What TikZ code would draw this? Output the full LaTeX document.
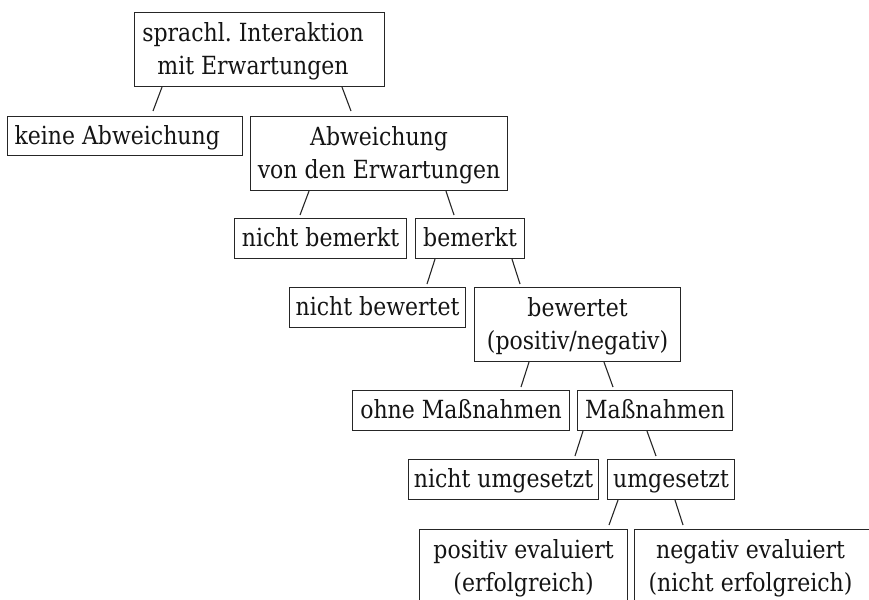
\documentclass[tikz,border=0pt]{standalone}
\usepackage{fontspec}
\setmainfont{DejaVu Serif}[FakeStretch=0.88]
\frenchspacing
\newcommand\sst{\rule[-4pt]{0pt}{24pt}}
\newcommand\bx[1]{\sst\smash{#1}}
\newcommand\shl[1]{\makebox[40pt][l]{\makebox[27pt]{#1}}}
\begin{document}
\begin{tikzpicture}[x=1pt,y=-1pt,
  box/.style={draw=black!85, line width=1.1pt, text=black!92, inner sep=0pt,
    align=center, anchor=north west, font=\fontsize{25}{33}\selectfont},
  one/.style={box, minimum height=40pt},
  two/.style={box, minimum height=74pt},
  edge/.style={draw=black!85, line width=1.1pt}]
\useasboundingbox (0,0) rectangle (869,599);
\clip (0,0) rectangle (869,599);

\node[two, minimum width=250pt] (root) at (134,12)
  {\bx{\shl{sprachl. Interaktion}}\\\bx{\shl{mit Erwartungen}}};
\node[one, minimum width=235pt, minimum height=39pt] (keine) at (7,116)
  {\bx{\makebox[221pt][l]{keine Abweichung}}};
\node[two, minimum width=257pt] (abw) at (250,116)
  {\bx{Abweichung}\\\bx{von den Erwartungen}};
\node[one, minimum width=172pt] (nbem) at (234,218) {\bx{nicht bemerkt}};
\node[one, minimum width=109pt] (bem) at (415,218) {\bx{bemerkt}};
\node[one, minimum width=176pt] (nbew) at (289,287) {\bx{nicht bewertet}};
\node[two, minimum width=206pt] (bew) at (474,287)
  {\bx{bewertet}\\\bx{(positiv/negativ)}};
\node[one, minimum width=217pt] (ohne) at (352,390) {\bx{ohne Maßnahmen}};
\node[one, minimum width=155pt] (mass) at (577,390) {\bx{Maßnahmen}};
\node[one, minimum width=190pt] (num) at (408,459) {\bx{nicht umgesetzt}};
\node[one, minimum width=127pt] (um) at (607,459) {\bx{umgesetzt}};
\node[two, minimum width=208pt] (pos) at (419,529)
  {\bx{positiv evaluiert}\\\bx{(erfolgreich)}};
\node[two, minimum width=246pt] (neg) at (634,529)
  {\bx{\makebox[246pt][l]{\makebox[232pt]{negativ evaluiert}}}\\
   \bx{\makebox[246pt][l]{\makebox[232pt]{(nicht erfolgreich)}}}};

\draw[edge] ([xshift=28pt]root.south west) -- ([xshift=146pt,yshift=5pt]keine.north west);
\draw[edge] ([xshift=208pt]root.south west) -- ([xshift=101pt,yshift=5pt]abw.north west);
\draw[edge] ([xshift=59pt]abw.south west) -- ([xshift=66pt,yshift=3pt]nbem.north west);
\draw[edge] ([xshift=196pt]abw.south west) -- ([xshift=39pt,yshift=3pt]bem.north west);
\draw[edge] ([xshift=20pt]bem.south west) -- ([xshift=138pt,yshift=3pt]nbew.north west);
\draw[edge] ([xshift=97pt]bem.south west) -- ([xshift=46pt,yshift=3pt]bew.north west);
\draw[edge] ([xshift=55pt]bew.south west) -- ([xshift=169pt,yshift=3pt]ohne.north west);
\draw[edge] ([xshift=130pt]bew.south west) -- ([xshift=36pt,yshift=3pt]mass.north west);
\draw[edge] ([xshift=6pt]mass.south west) -- ([xshift=167pt,yshift=3pt]num.north west);
\draw[edge] ([xshift=70pt]mass.south west) -- ([xshift=49pt,yshift=3pt]um.north west);
\draw[edge] ([xshift=11pt]um.south west) -- ([xshift=190pt,yshift=4pt]pos.north west);
\draw[edge] ([xshift=68pt]um.south west) -- ([xshift=49pt,yshift=4pt]neg.north west);
\end{tikzpicture}
\end{document}
